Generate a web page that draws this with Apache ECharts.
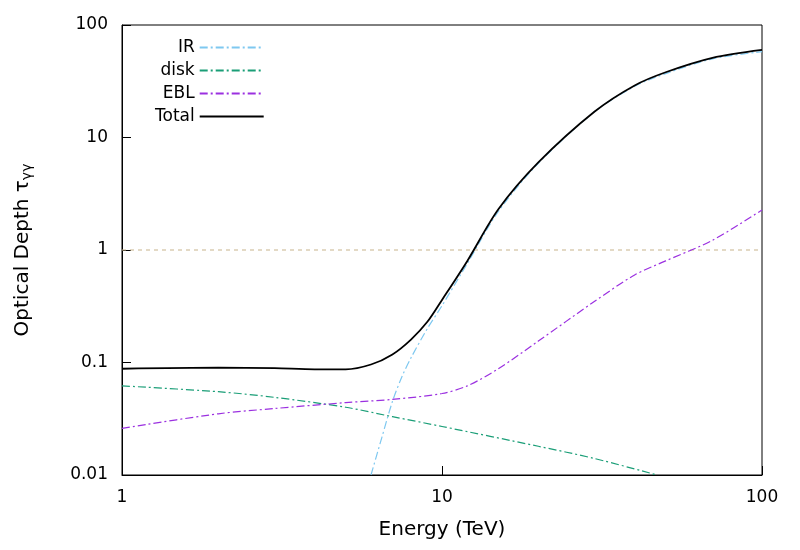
<!DOCTYPE html>
<html><head><meta charset="utf-8">
<script src="https://cdn.jsdelivr.net/npm/echarts@6/dist/echarts.min.js"></script>
</head><body style="margin:0">
<div id="c" style="width:800px;height:550px"></div>
<script>
const irX = [6, 6.5, 7, 7.5, 8, 9, 10, 12, 15, 20, 30, 40, 50, 70, 100];
const irY = [0.01, 0.022, 0.045, 0.075, 0.11, 0.2, 0.32, 0.76, 2.2, 5.9, 17, 28.5, 37, 50, 58];
const diskX = [1, 2, 3, 5, 7, 10, 20, 30, 47];
const diskY = [0.062, 0.055, 0.049, 0.040, 0.033, 0.027, 0.018, 0.014, 0.01];
const eblX = [1, 2, 3, 5, 7, 10, 12, 15, 20, 30, 40, 50, 70, 100];
const eblY = [0.026, 0.035, 0.039, 0.044, 0.047, 0.053, 0.062, 0.088, 0.155, 0.35, 0.6, 0.8, 1.22, 2.27];
const totX = [1, 2, 3, 4, 5, 6, 7, 8, 9, 10, 12, 15, 20, 30, 40, 50, 70, 100];
const totY = [0.088, 0.09, 0.089, 0.087, 0.087, 0.096, 0.118, 0.16, 0.23, 0.36, 0.8, 2.3, 6.0, 17, 29, 38, 51, 60];
const refX = [1, 100], refY = [1, 1];
const zip = (a, b) => a.map((v, i) => [v, b[i]]);
const font = 'DejaVu Sans';
const ch = echarts.init(document.getElementById('c'));
ch.setOption({
  animation: false,
  textStyle: { fontFamily: font },
  grid: { left: 122, right: 38, top: 25, bottom: 75, show: true, borderColor: '#000', borderWidth: 1 },
  legend: {
    orient: 'vertical', left: 150, top: 34, align: 'right', itemWidth: 64, itemGap: 6,
    itemStyle: { color: 'transparent', borderWidth: 0 },
    textStyle: { fontSize: 17, color: '#000', fontFamily: font },
    data: ['IR', 'disk', 'EBL', 'Total']
  },
  xAxis: {
    type: 'log', min: 1, max: 100, logBase: 10,
    name: 'Energy (TeV)', nameLocation: 'middle', nameGap: 45,
    nameTextStyle: { fontSize: 20, color: '#000', fontFamily: font },
    axisLine: { lineStyle: { color: '#000' } },
    axisTick: { inside: true, length: 9, lineStyle: { color: '#000' } },
    axisLabel: { fontSize: 17, color: '#000', margin: 14 },
    splitLine: { show: false }
  },
  yAxis: {
    type: 'log', min: 0.01, max: 100, logBase: 10,
    name: '{a|Optical Depth τ}{s|γγ}', nameLocation: 'middle', nameGap: 88,
    nameTextStyle: { rich: { a: { fontSize: 20, color: '#000', fontFamily: font }, s: { fontSize: 14, color: '#000', fontFamily: font, verticalAlign: 'bottom', padding: [9, 0, 0, 0] } } },
    axisLine: { lineStyle: { color: '#000' } },
    axisTick: { inside: true, length: 9, lineStyle: { color: '#000' } },
    axisLabel: { fontSize: 17, color: '#000', margin: 14, formatter: v => String(+v.toPrecision(3)) },
    splitLine: { show: false }
  },
  series: [
    { name: 'ref', type: 'line', data: zip(refX, refY), symbol: 'none', silent: true,
      lineStyle: { color: '#c8b48c', width: 1, type: [4, 4] } },
    { name: 'IR', type: 'line', data: zip(irX, irY), symbol: 'none', smooth: 0.3,
      lineStyle: { color: '#7ec8f0', width: 1.2, type: [8, 3, 2, 3] }, itemStyle: { color: '#7ec8f0' } },
    { name: 'disk', type: 'line', data: zip(diskX, diskY), symbol: 'none', smooth: 0.3,
      lineStyle: { color: '#1a9e77', width: 1.2, type: [8, 3, 2, 3] }, itemStyle: { color: '#1a9e77' } },
    { name: 'EBL', type: 'line', data: zip(eblX, eblY), symbol: 'none', smooth: 0.3,
      lineStyle: { color: '#9b30e0', width: 1.2, type: [8, 3, 2, 3] }, itemStyle: { color: '#9b30e0' } },
    { name: 'Total', type: 'line', data: zip(totX, totY), symbol: 'none', smooth: 0.3,
      lineStyle: { color: '#000', width: 1.8 }, itemStyle: { color: '#000' } }
  ]
});
</script></body></html>
